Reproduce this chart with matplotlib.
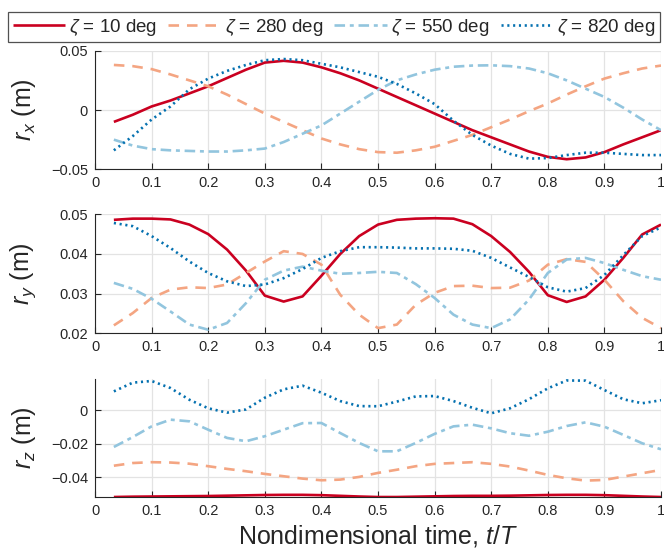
import numpy as np
import matplotlib.pyplot as plt

plt.rcParams['font.family'] = ['Liberation Sans', 'DejaVu Sans']
plt.rcParams['mathtext.fontset'] = 'custom'
plt.rcParams['mathtext.rm'] = 'Liberation Sans'
plt.rcParams['mathtext.it'] = 'Liberation Sans:italic'

# nondimensional time samples
t = [0.0333, 0.0667, 0.1, 0.1333, 0.1667, 0.2, 0.2333, 0.2667, 0.3, 0.3333,
     0.3667, 0.4, 0.4333, 0.4667, 0.5, 0.5333, 0.5667, 0.6, 0.6333, 0.6667,
     0.7, 0.7333, 0.7667, 0.8, 0.8333, 0.8667, 0.9, 0.9333, 0.9667, 1.0]

labels = [r'$\zeta$ = 10 deg', r'$\zeta$ = 280 deg', r'$\zeta$ = 550 deg', r'$\zeta$ = 820 deg']

# r_x
rx_10 = [-0.010, -0.004, 0.003, 0.008, 0.014, 0.020, 0.027, 0.034, 0.040, 0.0415,
         0.040, 0.036, 0.031, 0.025, 0.018, 0.011, 0.004, -0.003, -0.010, -0.017,
         -0.023, -0.029, -0.035, -0.0395, -0.0415, -0.040, -0.0355, -0.029, -0.023, -0.017]
rx_280 = [0.038, 0.037, 0.0345, 0.030, 0.025, 0.020, 0.013, 0.005, -0.003, -0.010,
          -0.017, -0.024, -0.029, -0.033, -0.0355, -0.036, -0.034, -0.031, -0.026, -0.021,
          -0.0145, -0.008, -0.001, 0.0055, 0.013, 0.020, 0.0265, 0.031, 0.035, 0.0375]
rx_550 = [-0.025, -0.030, -0.033, -0.034, -0.0345, -0.035, -0.035, -0.034, -0.0325, -0.027,
          -0.020, -0.013, -0.003, 0.007, 0.017, 0.025, 0.030, 0.034, 0.0365, 0.0375,
          0.0377, 0.037, 0.035, 0.031, 0.025, 0.018, 0.011, 0.002, -0.008, -0.017]
rx_820 = [-0.034, -0.022, -0.008, 0.003, 0.0175, 0.0265, 0.033, 0.038, 0.042, 0.043,
          0.042, 0.039, 0.036, 0.032, 0.028, 0.022, 0.014, 0.005, -0.009, -0.021,
          -0.030, -0.037, -0.041, -0.0405, -0.038, -0.036, -0.036, -0.037, -0.038, -0.038]

# r_y
ry_10 = [0.0486, 0.0489, 0.0489, 0.0487, 0.0474, 0.0450, 0.0411, 0.0358, 0.0295, 0.0280,
         0.0293, 0.0345, 0.0400, 0.0445, 0.0474, 0.0486, 0.0489, 0.0490, 0.0489, 0.0475,
         0.0445, 0.0405, 0.0355, 0.0296, 0.0279, 0.0293, 0.0335, 0.0390, 0.0449, 0.0474]
ry_280 = [0.0220, 0.0251, 0.0289, 0.0310, 0.0316, 0.0314, 0.0323, 0.0352, 0.0381, 0.0407,
          0.0400, 0.0373, 0.0297, 0.0247, 0.0213, 0.0222, 0.0272, 0.0302, 0.0319, 0.0320,
          0.0314, 0.0315, 0.0333, 0.0373, 0.0387, 0.0380, 0.0335, 0.0281, 0.0239, 0.0213]
ry_550 = [0.0327, 0.0312, 0.0287, 0.0255, 0.0222, 0.0209, 0.0226, 0.0276, 0.0335, 0.0358,
          0.0368, 0.0358, 0.0350, 0.0352, 0.0355, 0.0352, 0.0324, 0.0289, 0.0247, 0.0222,
          0.0213, 0.0235, 0.0285, 0.0352, 0.0386, 0.0390, 0.0377, 0.0360, 0.0344, 0.0335]
ry_820 = [0.0478, 0.0470, 0.0445, 0.0415, 0.0381, 0.0352, 0.0331, 0.0319, 0.0323, 0.0339,
          0.0362, 0.0390, 0.0407, 0.0417, 0.0417, 0.0416, 0.0414, 0.0414, 0.0413, 0.0408,
          0.0390, 0.0366, 0.0342, 0.0316, 0.0305, 0.0314, 0.0347, 0.0397, 0.0445, 0.0467]

# r_z
rz_10 = [-0.0518, -0.0516, -0.0515, -0.0514, -0.0513, -0.0512, -0.0510, -0.0508, -0.0506, -0.0505,
         -0.0505, -0.0507, -0.0511, -0.0515, -0.0518, -0.0518, -0.0516, -0.0514, -0.0512, -0.0511,
         -0.0511, -0.0510, -0.0508, -0.0506, -0.0505, -0.0505, -0.0507, -0.0511, -0.0515, -0.0518]
rz_280 = [-0.0331, -0.0315, -0.0310, -0.0312, -0.0319, -0.0334, -0.0350, -0.0364, -0.0380, -0.0394,
          -0.0408, -0.0418, -0.0414, -0.0398, -0.0374, -0.0355, -0.0334, -0.0320, -0.0315, -0.0310,
          -0.0320, -0.0336, -0.0360, -0.0386, -0.0406, -0.0420, -0.0416, -0.0396, -0.0376, -0.0356]
rz_550 = [-0.0219, -0.0160, -0.0096, -0.0056, -0.0066, -0.0116, -0.0165, -0.0185, -0.0155, -0.0116,
          -0.0077, -0.0076, -0.0136, -0.0195, -0.0245, -0.0245, -0.0195, -0.0141, -0.0096, -0.0086,
          -0.0108, -0.0137, -0.0152, -0.0128, -0.0094, -0.0072, -0.0098, -0.0147, -0.0197, -0.0233]
rz_820 = [0.0113, 0.0165, 0.0175, 0.0133, 0.0063, 0.0012, -0.0014, 0.0005, 0.0075, 0.0125,
          0.0147, 0.0105, 0.0055, 0.0025, 0.0024, 0.0052, 0.0083, 0.0085, 0.0055, 0.0015,
          -0.0018, 0.0012, 0.0066, 0.0131, 0.0178, 0.0177, 0.0121, 0.0066, 0.0042, 0.0060]

colors = ['#ca0020', '#f4a582', '#92c5de', '#0571b0']
dash = [None, (4, 3), (4, 1.8, 1.5, 1.8), (0.8, 1.4)]
dark = '#262626'

fig = plt.figure(figsize=(6.64, 5.49), dpi=100)
ax1 = fig.add_axes([0.1431, 0.6916, 0.8524, 0.2160])
ax2 = fig.add_axes([0.1431, 0.3929, 0.8524, 0.2168])
ax3 = fig.add_axes([0.1431, 0.0953, 0.8524, 0.2144])

panels = [
    (ax1, [rx_10, rx_280, rx_550, rx_820], (-0.05, 0.05), [-0.05, 0, 0.05], ['\u22120.05', '0', '0.05'], r'$r_x$ (m)'),
    (ax2, [ry_10, ry_280, ry_550, ry_820], (0.02, 0.05), [0.02, 0.03, 0.04, 0.05], ['0.02', '0.03', '0.04', '0.05'], r'$r_y$ (m)'),
    (ax3, [rz_10, rz_280, rz_550, rz_820], (-0.0516, 0.0187), [-0.04, -0.02, 0], ['\u22120.04', '\u22120.02', '0'], r'$r_z$ (m)'),
]

xticks = [0, 0.1, 0.2, 0.3, 0.4, 0.5, 0.6, 0.7, 0.8, 0.9, 1]
xlabels = ['0', '0.1', '0.2', '0.3', '0.4', '0.5', '0.6', '0.7', '0.8', '0.9', '1']

handles = []
for ax, series, ylim, yt, ytl, ylab in panels:
    for i, s in enumerate(series):
        line, = ax.plot(t, s, color=colors[i], lw=1.9, solid_capstyle='butt')
        if dash[i] is not None:
            line.set_dashes(dash[i])
            line.set_dash_capstyle('butt')
        if ax is ax1:
            handles.append(line)
    ax.set_xlim(0, 1)
    ax.set_ylim(*ylim)
    ax.set_xticks(xticks)
    ax.set_xticklabels(xlabels)
    ax.set_yticks(yt)
    ax.set_yticklabels(ytl)
    ax.grid(True, color='#e3e3e3', lw=0.9)
    ax.set_axisbelow(True)
    for sp in ['top', 'right']:
        ax.spines[sp].set_visible(False)
    for sp in ['left', 'bottom']:
        ax.spines[sp].set_color(dark)
        ax.spines[sp].set_linewidth(0.8)
    ax.tick_params(direction='in', length=4, width=0.8, color=dark,
                   labelcolor=dark, labelsize=10.5, pad=5)
    ax.set_ylabel(ylab, fontsize=18, color=dark)
    ax.yaxis.set_label_coords(-0.1, 0.5)

ax3.set_xlabel('Nondimensional time, $t/T$', fontsize=18, color=dark)
ax3.xaxis.set_label_coords(0.5, -0.22)

leg = fig.legend(handles, labels, loc='upper left', bbox_to_anchor=(8 / 664, 1 - 12 / 549),
                 ncol=4, fontsize=13.5, frameon=True, fancybox=False, borderpad=0.25,
                 handlelength=2.8, handletextpad=0.2, columnspacing=0.6, borderaxespad=0)
leg.get_frame().set_edgecolor(dark)
leg.get_frame().set_linewidth(0.9)
for txt in leg.get_texts():
    txt.set_color(dark)

fig.savefig('out.png', dpi=100)
